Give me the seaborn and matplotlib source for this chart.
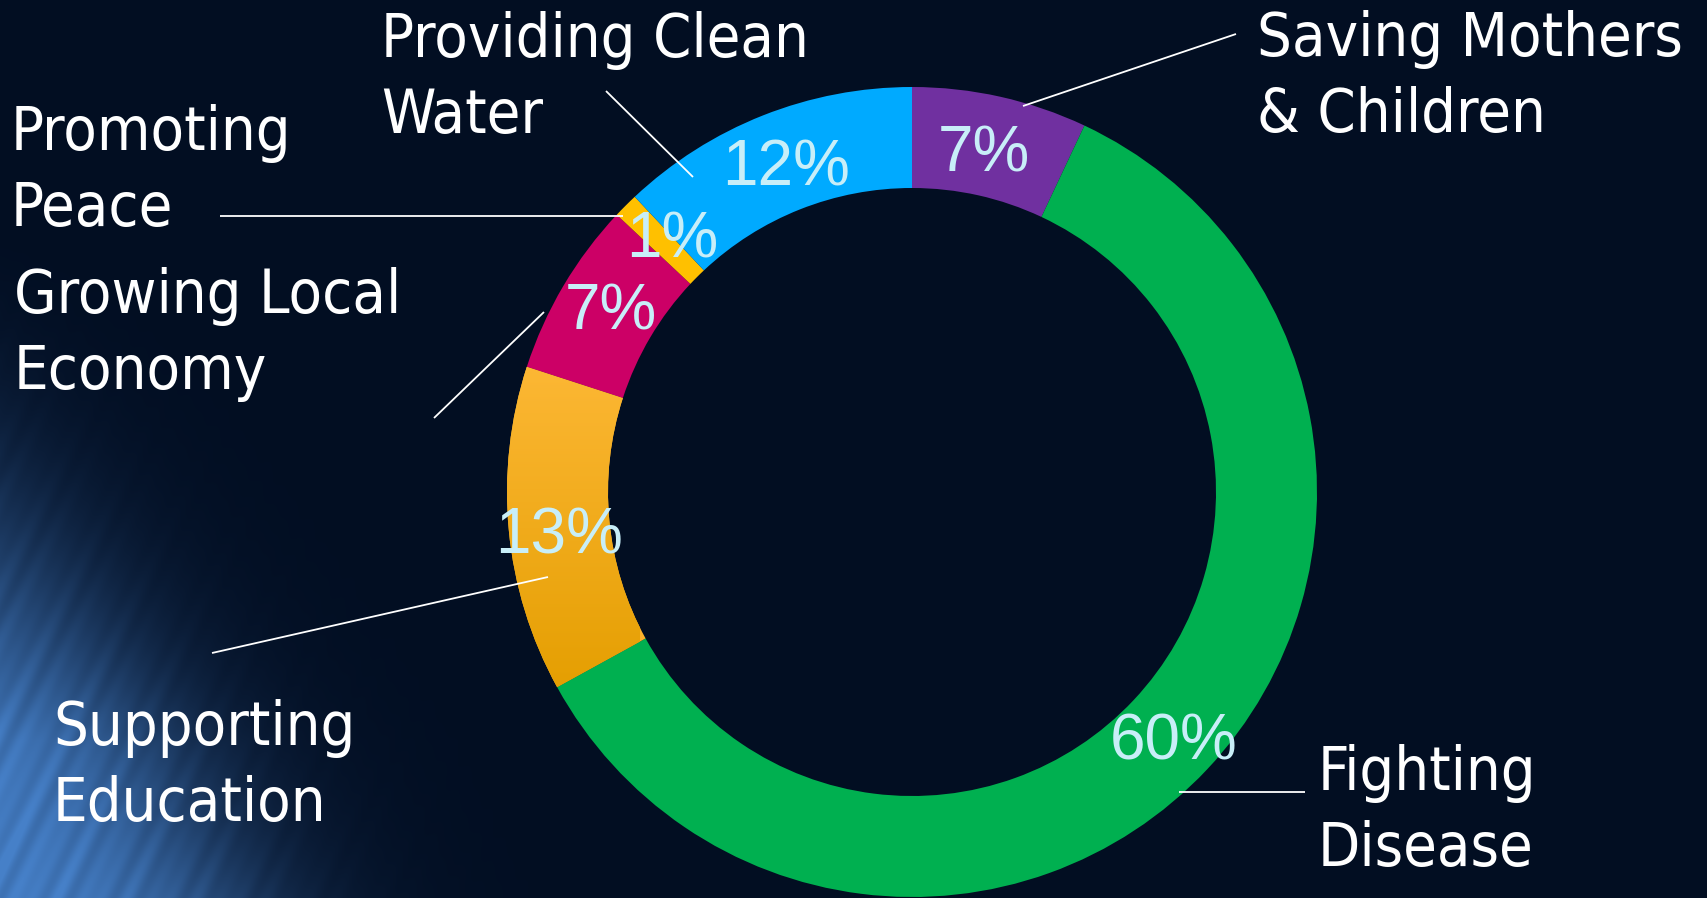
import numpy as np
import matplotlib
matplotlib.use('Agg')
from matplotlib import pyplot as plt
import seaborn as sns

# chart data (clockwise from 12 o'clock)
categories = ['Saving Mothers\n& Children', 'Fighting\nDisease', 'Supporting\nEducation',
              'Growing Local\nEconomy', 'Promoting\nPeace', 'Providing Clean\nWater']
shares = [7, 60, 13, 7, 1, 12]
pct_labels = [f'{v}%' for v in shares]
slice_colors = ['#7030A0', '#00B050', '#FDB22B', '#CC0066', '#FFC000', '#00AAFF']

W, H = 1707, 898
# label placement in pixels, measured from the top left corner
name_pos = [(1257, 56), (1318, 790), (53, 745), (14, 313), (11, 150), (381, 57)]
pct_pos = [(984, 171), (1174, 759), (559, 554), (611, 329), (672, 257), (786, 185)]
leaders = [((1023, 106), (1236, 34)), ((1179, 792), (1305, 792)), ((212, 653), (548, 577)),
           ((434, 418), (544, 312)), ((220, 216), (623, 216)), ((606, 91), (693, 177))]
line_gap = 76

sns.set_style('dark')
fig = plt.figure(figsize=(W / 100, H / 100), dpi=100)
ax = fig.add_axes([0, 0, 1, 1])

# dark navy backdrop with a blue glow in the lower left corner
yy, xx = np.mgrid[0:H, 0:W].astype(float)
base = np.array([2, 14, 34]) / 255
glow = np.array([70, 128, 200]) / 255
s = ((xx - 40) * 428 - (yy - 470) * 210) / 477.0
inten = 1 / (1 + np.exp((s + 30) / 55)) * np.clip((yy - 220) / 520, 0, 1) ** 1.1
p = (xx * 428 + yy * 210) / 477.0
inten = inten * (1 + 0.1 * np.sin(p / 4.0) * np.sin(p / 19.0))
inten = np.clip(inten, 0, 1)
bg = base + (glow - base) * inten[..., None]
ax.imshow(bg, extent=[0, W, 0, H], origin='upper', zorder=0, interpolation='bilinear')

wedges, _ = ax.pie(shares, colors=slice_colors, startangle=90, counterclock=False,
                   radius=405, center=(912, H - 492),
                   wedgeprops=dict(width=101, linewidth=0))
for w in wedges:
    w.set_zorder(2)

# orange gradient on the education slice
edu = wedges[2]
grad = np.linspace(0, 1, 256)[:, None, None]
top_c = np.array([255, 186, 58]) / 255
bot_c = np.array([228, 158, 0]) / 255
gimg = np.repeat(top_c + (bot_c - top_c) * grad, 2, axis=1)
gi = ax.imshow(gimg, extent=[500, 640, H - 700, H - 330], origin='upper', zorder=3,
               aspect='auto')
gi.set_clip_path(edu)

for (x0, y0), (x1, y1) in leaders:
    ax.plot([x0, x1], [H - y0, H - y1], color='white', lw=1.3, zorder=4,
            solid_capstyle='butt')

for name, (x, y) in zip(categories, name_pos):
    for i, line in enumerate(name.split('\n')):
        ax.text(x, H - (y + i * line_gap), line, color='white', fontsize=44,
                family='DejaVu Sans', fontstretch='condensed',
                ha='left', va='baseline', zorder=5)

for lab, (x, y) in zip(pct_labels, pct_pos):
    ax.text(x, H - y, lab, color='#C8EEF8', fontsize=46, family='Liberation Sans',
            ha='center', va='baseline', zorder=5)

ax.set_xlim(0, W)
ax.set_ylim(0, H)
ax.set_aspect('auto')
ax.axis('off')

fig.savefig('out.png', dpi=100)
